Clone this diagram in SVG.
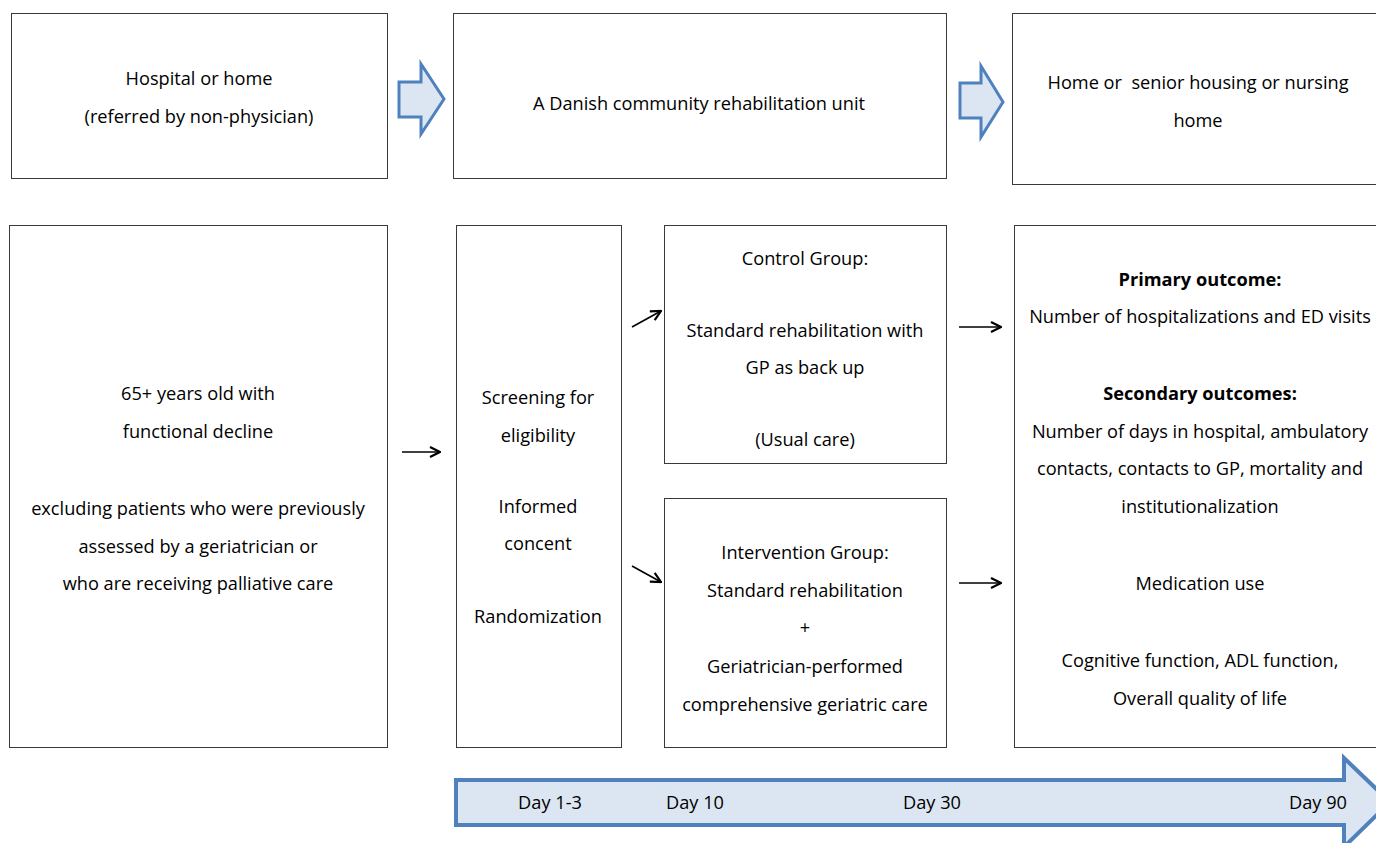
<svg xmlns="http://www.w3.org/2000/svg" width="1376" height="843" viewBox="0 0 1376 843">
<defs>
<style>
.box{fill:#fff;stroke:#3a3a3a;stroke-width:1}
.t{font-family:"Open Sans","Liberation Sans",sans-serif;font-size:18.2px;fill:#000;text-anchor:middle}
.b{font-weight:bold}
.blk{fill:#DCE6F2;stroke:#4F81BD;stroke-width:3;stroke-linejoin:miter}
.con{stroke:#000;stroke-width:1.6;fill:none}
</style>
<marker id="ah" viewBox="0 0 12 12" refX="11" refY="6" markerWidth="12" markerHeight="12" markerUnits="userSpaceOnUse" orient="auto">
<path d="M1,1 L11,6 L1,11" fill="none" stroke="#000" stroke-width="2.2"/>
</marker>
</defs>
<rect width="1376" height="843" fill="#fff"/>
<g id="n-origin"><rect class="box" x="11.5" y="13.5" width="376" height="165"/>
<text class="t" x="199" y="85">Hospital or home</text>
<text class="t" x="199" y="123">(referred by non-physician)</text></g>
<g id="n-unit"><rect class="box" x="453.5" y="13.5" width="493" height="165"/>
<text class="t" x="699" y="110">A Danish community rehabilitation unit</text></g>
<g id="n-dest"><rect class="box" x="1012.5" y="13.5" width="370" height="171"/>
<text class="t" x="1198" y="89" xml:space="preserve">Home or  senior housing or nursing</text>
<text class="t" x="1198" y="127">home</text></g>
<g id="n-pop"><rect class="box" x="9.5" y="225.5" width="378" height="522"/>
<text class="t" x="198" y="400">65+ years old with</text>
<text class="t" x="198" y="438">functional decline</text>
<text class="t" x="198" y="515">excluding patients who were previously</text>
<text class="t" x="198" y="553">assessed by a geriatrician or</text>
<text class="t" x="198" y="590">who are receiving palliative care</text></g>
<g id="n-screen"><rect class="box" x="456.5" y="225.5" width="165" height="522"/>
<text class="t" x="538" y="404">Screening for</text>
<text class="t" x="538" y="442">eligibility</text>
<text class="t" x="538" y="513">Informed</text>
<text class="t" x="538" y="550">concent</text>
<text class="t" x="538" y="623">Randomization</text></g>
<g id="n-control"><rect class="box" x="664.5" y="225.5" width="282" height="238"/>
<text class="t" x="805" y="265">Control Group:</text>
<text class="t" x="805" y="337">Standard rehabilitation with</text>
<text class="t" x="805" y="374">GP as back up</text>
<text class="t" x="805" y="446">(Usual care)</text></g>
<g id="n-intervention"><rect class="box" x="664.5" y="498.5" width="282" height="249"/>
<text class="t" x="805" y="559">Intervention Group:</text>
<text class="t" x="805" y="597">Standard rehabilitation</text>
<text class="t" x="805" y="634">+</text>
<text class="t" x="805" y="673">Geriatrician-performed</text>
<text class="t" x="805" y="711">comprehensive geriatric care</text></g>
<g id="n-outcomes"><rect class="box" x="1014.5" y="225.5" width="370" height="522"/>
<text class="t b" x="1200" y="286">Primary outcome:</text>
<text class="t" x="1200" y="323">Number of hospitalizations and ED visits</text>
<text class="t b" x="1200" y="400">Secondary outcomes:</text>
<text class="t" x="1200" y="438">Number of days in hospital, ambulatory</text>
<text class="t" x="1200" y="475">contacts, contacts to GP, mortality and</text>
<text class="t" x="1200" y="513">institutionalization</text>
<text class="t" x="1200" y="590">Medication use</text>
<text class="t" x="1200" y="667">Cognitive function, ADL function,</text>
<text class="t" x="1200" y="705">Overall quality of life</text></g>
<g id="connectors">
<polygon class="blk" points="399,82 421,82 421,64 444,99 421,134 421,117 399,117"/>
<polygon class="blk" points="960,83 981,83 981,66 1003,102 981,137 981,118 960,118"/>
<line class="con" x1="402" y1="452" x2="440" y2="452" marker-end="url(#ah)"/>
<line class="con" x1="632" y1="327" x2="661" y2="311" marker-end="url(#ah)"/>
<line class="con" x1="632" y1="566" x2="661" y2="582" marker-end="url(#ah)"/>
<line class="con" x1="959" y1="327" x2="1001" y2="327" marker-end="url(#ah)"/>
<line class="con" x1="959" y1="583" x2="1001" y2="583" marker-end="url(#ah)"/>
</g>
<g id="timeline">
<polygon class="blk" style="stroke-width:4" points="456,780 1344,780 1344,758 1390,802 1344,847 1344,825 456,825"/>
<text class="t" x="550" y="809">Day 1-3</text>
<text class="t" x="695" y="809">Day 10</text>
<text class="t" x="932" y="809">Day 30</text>
<text class="t" x="1318" y="809">Day 90</text>
</g>
</svg>
